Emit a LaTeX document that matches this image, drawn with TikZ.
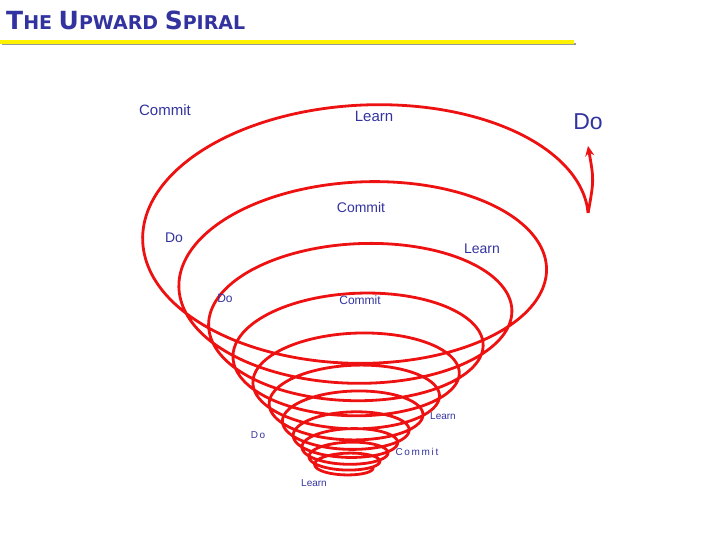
\documentclass[tikz,border=0pt]{standalone}
\usepackage{fontspec}
\usetikzlibrary{arrows.meta}
\setmainfont{Liberation Sans}
\newfontfamily\titlefont{DejaVu Sans}
\definecolor{navy}{HTML}{3333A0}
\definecolor{sred}{HTML}{EE1111}
\definecolor{ylw}{HTML}{FFF200}
\begin{document}
\begin{tikzpicture}[x=1pt,y=1pt,
  lbl/.style={text=navy,inner sep=0pt,font=\fontsize{#1}{#1}\selectfont},
  spir/.style={draw=sred,line width=2.8pt,line join=round}]
\useasboundingbox (0,0) rectangle (720,540);
% title
\node[anchor=base west,inner sep=0pt,text=navy] (title) at (6,510)
 {\titlefont\bfseries\fontsize{25}{25}\selectfont T\fontsize{19}{19}\selectfont HE \fontsize{25}{25}\selectfont U\fontsize{19}{19}\selectfont PWARD \fontsize{25}{25}\selectfont S\fontsize{19}{19}\selectfont PIRAL};
\fill[gray!80] (2,494.5) rectangle (576,496.5);
\fill[ylw] (0,496) rectangle (574,499.5);
% spiral
\draw[spir] plot[smooth,samples=1000,domain=0:1,variable=\s]
 ({345+10*\s + (28*exp(2.12*\s))*cos(360*11*\s)},
  {540-(468-253*(exp(2.2*\s)-1)/(exp(2.2)-1)) - (8*exp(2.8*\s))*sin(360*11*\s)})
 coordinate (tip0);
\coordinate (doend) at (588,394);
\draw[spir,-{Stealth[length=10pt,width=9pt]}] (tip0) .. controls (594,360) .. (doend);
% labels
\node[lbl=15] (c1) at (165,430) {Commit};
\node[lbl=15] (l1) at (374,424) {Learn};
\node[lbl=23] (d1) at (588,418) {Do};
\node[lbl=14] (c2) at (361,332) {Commit};
\node[lbl=14] (d2) at (174,302) {Do};
\node[lbl=14] (l2) at (482,291) {Learn};
\node[lbl=12] (d3) at (225,242) {Do};
\node[lbl=12] (c3) at (360,240) {Commit};
\node[lbl=10] (l3) at (443,124) {Learn};
\node[lbl=10] (d4) at (258,105) {D\,o};
\node[lbl=10] (c4) at (417,88) {C\,o\,m\,m\,i\,t};
\node[lbl=10] (l4) at (314,57) {Learn};
\end{tikzpicture}
\end{document}
